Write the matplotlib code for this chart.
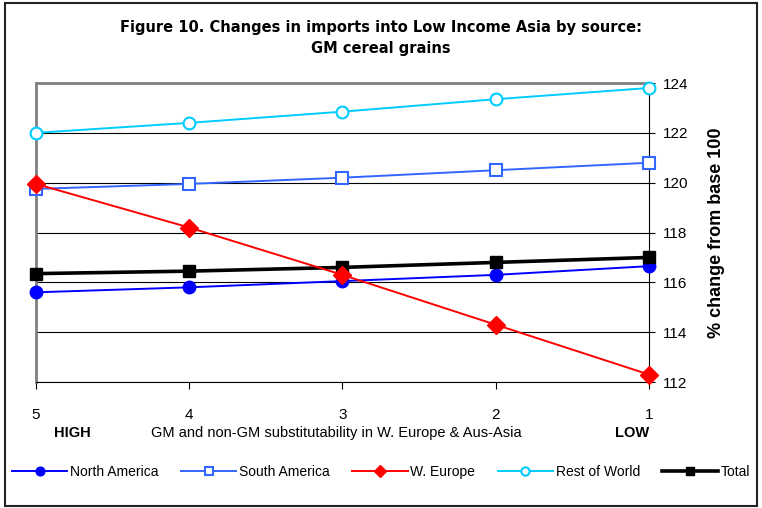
import matplotlib
matplotlib.use('Agg')
import matplotlib.pyplot as plt
from matplotlib.patches import Rectangle

plt.rcParams['font.family'] = ['Liberation Sans', 'DejaVu Sans']

# substitutability level (5 = high ... 1 = low)
levels = [5, 4, 3, 2, 1]
north_america = [115.6, 115.8, 116.05, 116.3, 116.65]
south_america = [119.75, 119.95, 120.2, 120.5, 120.8]
w_europe = [119.95, 118.2, 116.3, 114.3, 112.3]
rest_of_world = [122.0, 122.4, 122.85, 123.35, 123.8]
total = [116.35, 116.45, 116.6, 116.8, 117.0]

fig = plt.figure(figsize=(7.62, 5.08), dpi=100)
fig.patches.append(Rectangle((0.006, 0.004), 0.988, 0.99, transform=fig.transFigure,
                             fill=False, edgecolor='#222222', linewidth=1.5))

ax = fig.add_axes([0.0472, 0.248, 0.8045, 0.5886])
ax.plot(levels, north_america, color='#0000FF', lw=1.4, marker='o', ms=9,
        mfc='#0000FF', mec='#0000FF', label='North America', clip_on=False, zorder=4)
ax.plot(levels, south_america, color='#3366FF', lw=1.4, marker='s', ms=8.5,
        mfc='white', mec='#3366FF', mew=1.5, label='South America', clip_on=False, zorder=3)
ax.plot(levels, w_europe, color='#FF0000', lw=1.4, marker='D', ms=9,
        mfc='#FF0000', mec='#FF0000', label='W. Europe', clip_on=False, zorder=5)
ax.plot(levels, rest_of_world, color='#00CCFF', lw=1.4, marker='o', ms=8.5,
        mfc='white', mec='#00CCFF', mew=1.5, label='Rest of World', clip_on=False, zorder=3)
ax.plot(levels, total, color='black', lw=2.6, marker='s', ms=9,
        mfc='black', mec='black', label='Total', clip_on=False, zorder=4)

ax.set_xlim(5, 1)
ax.set_ylim(112, 124)
ax.set_xticks(levels)
ax.set_yticks(range(112, 125, 2))
ax.grid(axis='y', color='black', lw=0.8)
ax.set_axisbelow(True)

ax.yaxis.tick_right()
ax.yaxis.set_label_position('right')
ax.tick_params(axis='y', direction='out', length=4, pad=6, labelsize=11)
ax.tick_params(axis='x', direction='out', length=5, pad=14, labelsize=11)
ax.set_ylabel('% change from base 100', fontsize=13, fontweight='bold', labelpad=14)

for side in ['left', 'top']:
    ax.spines[side].set_color('#808080')
    ax.spines[side].set_linewidth(2)
ax.spines['right'].set_color('black')
ax.spines['bottom'].set_color('black')

fig.text(0.5, 0.945, 'Figure 10. Changes in imports into Low Income Asia by source:',
         ha='center', va='center', fontsize=10.5, fontweight='bold', family='DejaVu Sans')
fig.text(0.5, 0.905, 'GM cereal grains', ha='center', va='center',
         fontsize=10.5, fontweight='bold', family='DejaVu Sans')

fig.text(0.095, 0.147, 'HIGH', ha='center', va='center', fontsize=10.5, fontweight='bold')
fig.text(0.441, 0.147, 'GM and non-GM substitutability in W. Europe & Aus-Asia',
         ha='center', va='center', fontsize=10.5)
fig.text(0.83, 0.147, 'LOW', ha='center', va='center', fontsize=10.5, fontweight='bold')

fig.legend(loc='center', bbox_to_anchor=(0.5, 0.071), ncol=5, frameon=False,
           handlelength=4.0, handletextpad=0.2, columnspacing=1.6, fontsize=10,
           markerscale=0.7)

fig.savefig('out.png', dpi=100)
